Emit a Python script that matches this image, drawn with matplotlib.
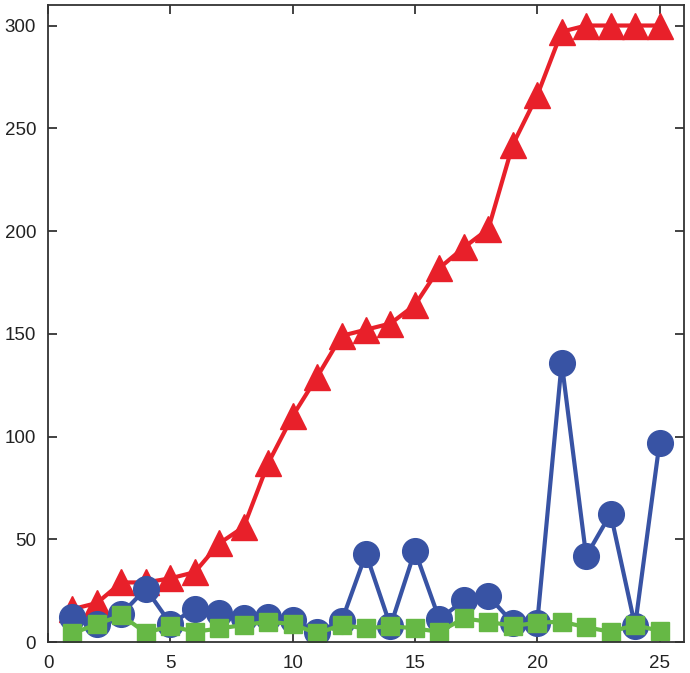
import numpy as np
import matplotlib.pyplot as plt

plt.rcParams['font.family'] = ['Liberation Sans', 'DejaVu Sans']

# data
x = np.arange(1, 26)
red = [16, 19, 29, 29, 31, 34, 48, 56, 87, 110, 129, 149, 152, 155, 164,
       182, 192, 201, 242, 266, 297, 300, 300, 300, 300]
blue = [12, 8.7, 13.6, 26, 9, 16, 14, 11.5, 12, 10.7, 5, 10, 43, 7.8, 44.4,
        11, 20.4, 22.4, 9.4, 9.4, 136, 41.8, 62.5, 7.8, 97]
green = [4.2, 8.7, 13, 4.5, 7.8, 5, 6.6, 8.3, 9.9, 8.7, 4.2, 8.3, 6.6, 7.8,
         6.6, 5, 11.5, 9.9, 7.8, 9.4, 9.9, 7.2, 5, 8.3, 5.4]

fig = plt.figure(figsize=(6.9, 6.73), dpi=100)
ax = fig.add_axes([0.0696, 0.046, 0.9217, 0.9466])

ax.plot(x, red, color='#e8202a', lw=3, marker='^', ms=19)
ax.plot(x, blue, color='#3853a4', lw=3, marker='o', ms=18.5)
ax.plot(x, green, color='#66b845', lw=3, marker='s', ms=12.5)

ax.set_xlim(0, 26)
ax.set_ylim(0, 310)
ax.set_xticks(range(0, 26, 5))
ax.set_yticks(range(0, 301, 50))
ax.tick_params(direction='in', length=6.5, width=1.2, top=True, right=True,
               labelsize=13.5, colors='#222222')
ax.tick_params(axis='x', pad=9.5)
ax.tick_params(axis='y', pad=8.5)
for s in ax.spines.values():
    s.set_linewidth(1.3)
    s.set_color('#333333')

fig.savefig('out.png', dpi=100)
